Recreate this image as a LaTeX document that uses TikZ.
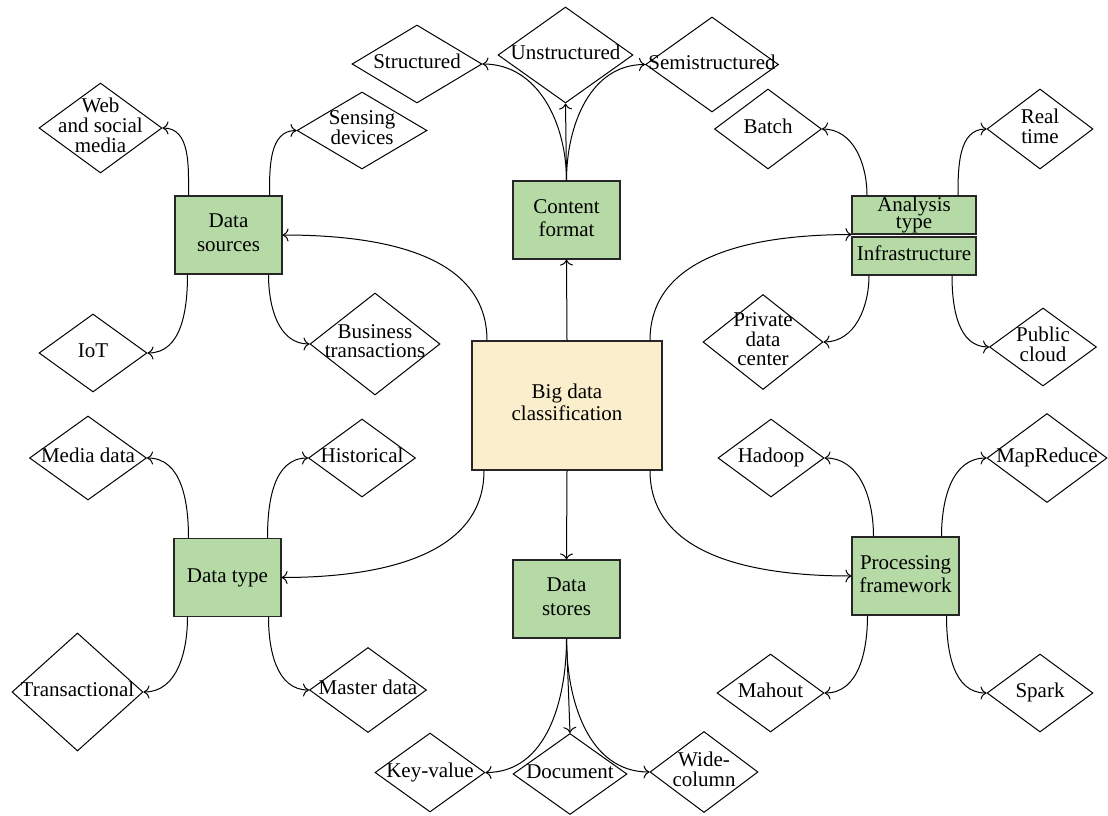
\documentclass[tikz,border=0pt]{standalone}
\usepackage{fontspec}
\setmainfont{Liberation Serif}
\usetikzlibrary{arrows.meta,shapes.geometric}
\definecolor{catgreen}{RGB}{182,218,166}
\definecolor{rootcream}{RGB}{251,238,204}
\newcommand{\lbl}[1]{\raisebox{-0.25em}[0pt][0pt]{\makebox[0pt]{\begin{tabular}{@{}c@{}}#1\end{tabular}}}}

\begin{document}
\begin{tikzpicture}[x=1pt, y=-1pt,
  font=\fontsize{21}{19}\selectfont,
  cat/.style={draw=black!85, line width=1.1pt, fill=catgreen, inner sep=0pt, minimum width=107pt, minimum height=78pt, font=\fontsize{21}{24}\selectfont},
  leaf/.style n args={2}{diamond, draw, line width=1pt, inner sep=0pt, minimum width=#1pt, minimum height=#2pt},
  arr/.style={-{To[length=6pt,width=13pt]}, line width=1pt}
]
\useasboundingbox (0,0) rectangle (1108,816);
% main boxes
\node[cat, fill=rootcream, minimum width=190pt, minimum height=129pt, font=\fontsize{21}{22}\selectfont] (root) at (567,405.5) {\lbl{Big data\\classification}};
\node[cat] (src) at (228.5,235) {\lbl{Data\\sources}};
\node[cat, font=\fontsize{21}{23}\selectfont] (cfmt) at (566.5,220) {\lbl{Content\\format}};
\node[cat, minimum width=124pt, minimum height=38pt, font=\fontsize{21}{16.5}\selectfont] (ana) at (914,215) {\lbl{Analysis\\type}};
\node[cat, minimum width=124pt, minimum height=38pt] (infra) at (914,256) {\lbl{Infrastructure}};
\node[cat] (dtype) at (227.5,577.5) {\lbl{Data type}};
\node[cat] (store) at (566.5,599) {\lbl{Data\\stores}};
\node[cat, font=\fontsize{21}{23}\selectfont] (proc) at (905.5,576) {\lbl{Processing\\framework}};
% leaves
\node[leaf={123}{90}] (web) at (100.5,128) {\lbl{Web\\and social\\media}};
\node[leaf={130}{77}] (sens) at (362,130.5) {\lbl{Sensing\\devices}};
\node[leaf={108}{78}] (iot) at (93,353) {\lbl{IoT}};
\node[leaf={130}{102}] (biz) at (375,344) {\lbl{Business\\transactions}};
\node[leaf={130}{78}] (strc) at (417,64) {\lbl{Structured}};
\node[leaf={135}{96}] (unst) at (565.5,55) {\lbl{Unstructured}};
\node[leaf={133}{95}] (semi) at (712,64.5) {\lbl{Semistructured}};
\node[leaf={107}{80}] (batch) at (768,129) {\lbl{Batch}};
\node[leaf={106}{80}] (real) at (1040,129) {\lbl{Real\\time}};
\node[leaf={120}{95}] (priv) at (763,342) {\lbl{Private\\data\\center}};
\node[leaf={107}{78}] (pub) at (1043,347) {\lbl{Public\\cloud}};
\node[leaf={117}{84}] (media) at (88,458) {\lbl{Media data}};
\node[leaf={107}{78}] (hist) at (362,458) {\lbl{Historical}};
\node[leaf={131}{118}] (trans) at (77.5,692) {\lbl{Transactional}};
\node[leaf={117}{85}] (master) at (368,690) {\lbl{Master data}};
\node[leaf={106}{78}] (hadoop) at (771,458) {\lbl{Hadoop}};
\node[leaf={120}{89}] (mapr) at (1047,458) {\lbl{MapReduce}};
\node[leaf={107}{78}] (mahout) at (770.5,693) {\lbl{Mahout}};
\node[leaf={106}{78}] (spark) at (1040,693) {\lbl{Spark}};
\node[leaf={110}{79}] (kv) at (430,772.5) {\lbl{Key-value}};
\node[leaf={114}{81}] (doc) at (570,774) {\lbl{Document}};
\node[leaf={108}{81}] (wide) at (704,772) {\lbl{Wide-\\column}};
% from the root
\draw[arr] ([xshift=-80pt]root.north) to[out=90,in=0] (src.east);
\draw[arr] (root.north) -- (cfmt.south);
\draw[arr] ([xshift=83pt]root.north) to[out=90,in=180] (ana.south west);
\draw[arr] ([xshift=-83pt]root.south) to[out=-90,in=0] (dtype.east);
\draw[arr] (root.south) -- (store.north);
\draw[arr] ([xshift=83pt]root.south) to[out=-90,in=180] (proc.west);
% data sources
\draw[arr] ([xshift=-40pt]src.north) to[out=90,in=0] (web.east);
\draw[arr] ([xshift=41pt]src.north) to[out=90,in=180] (sens.west);
\draw[arr] ([xshift=-41pt]src.south) to[out=-90,in=0] (iot.east);
\draw[arr] ([xshift=40pt]src.south) to[out=-90,in=180] (biz.west);
% content format
\draw[arr] (cfmt.north) to[out=90,in=0] (strc.east);
\draw[arr] (cfmt.north) -- (unst.south);
\draw[arr] (cfmt.north) to[out=90,in=180] (semi.west);
% analysis type / infrastructure
\draw[arr] ([xshift=-47pt]ana.north) to[out=90,in=0] (batch.east);
\draw[arr] ([xshift=44pt]ana.north) to[out=90,in=180] (real.west);
\draw[arr] ([xshift=-45pt]infra.south) to[out=-90,in=0] (priv.east);
\draw[arr] ([xshift=38pt]infra.south) to[out=-90,in=180] (pub.west);
% data type
\draw[arr] ([xshift=-39pt]dtype.north) to[out=90,in=0] (media.east);
\draw[arr] ([xshift=40pt]dtype.north) to[out=90,in=180] (hist.west);
\draw[arr] ([xshift=-40pt]dtype.south) to[out=-90,in=0] (trans.east);
\draw[arr] ([xshift=41pt]dtype.south) to[out=-90,in=180] (master.west);
% processing framework
\draw[arr] ([xshift=-32pt]proc.north) to[out=90,in=0] (hadoop.east);
\draw[arr] ([xshift=36pt]proc.north) to[out=90,in=180] (mapr.west);
\draw[arr] ([xshift=-38pt]proc.south) to[out=-90,in=0] (mahout.east);
\draw[arr] ([xshift=41pt]proc.south) to[out=-90,in=180] (spark.west);
% data stores
\draw[arr] (store.south) to[out=-90,in=0] (kv.east);
\draw[arr] (store.south) -- (doc.north);
\draw[arr] (store.south) to[out=-90,in=180] (wide.west);
\end{tikzpicture}
\end{document}
